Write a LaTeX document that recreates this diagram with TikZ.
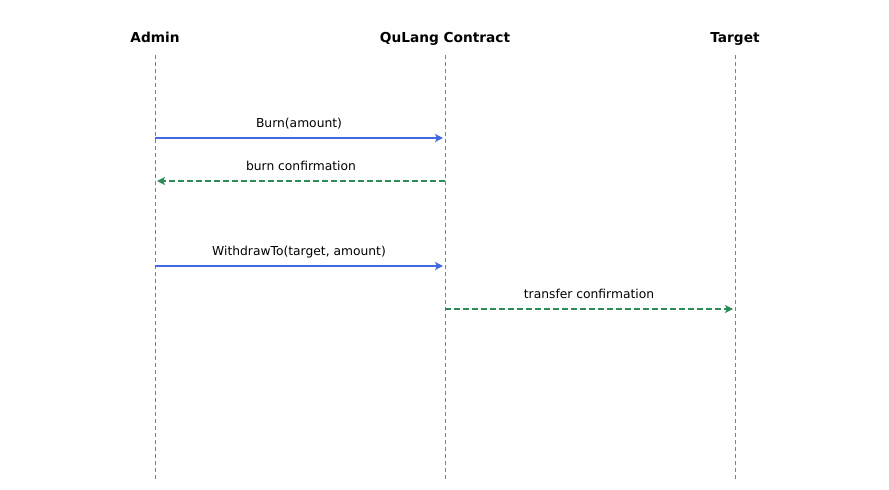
\documentclass[tikz,border=0pt]{standalone}
\usepackage{fontspec}
\setmainfont{DejaVu Sans}
\usetikzlibrary{arrows.meta}
\definecolor{msgblue}{RGB}{65,105,225}
\definecolor{msggreen}{RGB}{46,139,87}
\definecolor{lifegray}{RGB}{128,128,128}
\begin{document}
\begin{tikzpicture}[x=1pt,y=-1pt,
  actor/.style={font=\fontsize{13.7}{15}\selectfont\bfseries, inner sep=0pt, anchor=base},
  lifeline/.style={draw=lifegray, line width=1pt, dash pattern=on 4pt off 3pt},
  callmsg/.style={draw=msgblue, line width=2pt, -{Stealth[length=8pt,width=8pt,inset=2pt]}},
  replymsg/.style={draw=msggreen, line width=2pt, dash pattern=on 6pt off 3pt, -{Stealth[length=8pt,width=8pt,inset=2pt]}},
  msglabel/.style={font=\fontsize{12.3}{14}\selectfont, inner sep=0pt, anchor=base, yshift=11pt}]
\useasboundingbox (0,0) rectangle (889,490);
\node[actor] (admin) at (155,42) {Admin};
\node[actor] (contract) at (445,42) {QuLang Contract};
\node[actor] (target) at (735,42) {Target};
\coordinate (admintop) at (155,55);
\coordinate (adminbot) at (155,480);
\coordinate (contop) at (445,55);
\coordinate (conbot) at (445,480);
\coordinate (tartop) at (735,55);
\coordinate (tarbot) at (735,480);
\draw[lifeline] (admintop) -- (adminbot);
\draw[lifeline] (contop) -- (conbot);
\draw[lifeline] (tartop) -- (tarbot);
% messages
\coordinate (a1) at (155,138); \coordinate (c1) at (443,138);
\coordinate (c2) at (445,181); \coordinate (a2) at (157,181);
\coordinate (a3) at (155,266); \coordinate (c3) at (443,266);
\coordinate (c4) at (445,309); \coordinate (t4) at (733,309);
\draw[callmsg] (a1) -- node[msglabel] (l1) {Burn(amount)} (c1);
\draw[replymsg] (c2) -- node[msglabel] (l2) {burn confirmation} (a2);
\draw[callmsg] (a3) -- node[msglabel] (l3) {WithdrawTo(target, amount)} (c3);
\draw[replymsg] (c4) -- node[msglabel] (l4) {transfer confirmation} (t4);
\end{tikzpicture}
\end{document}
